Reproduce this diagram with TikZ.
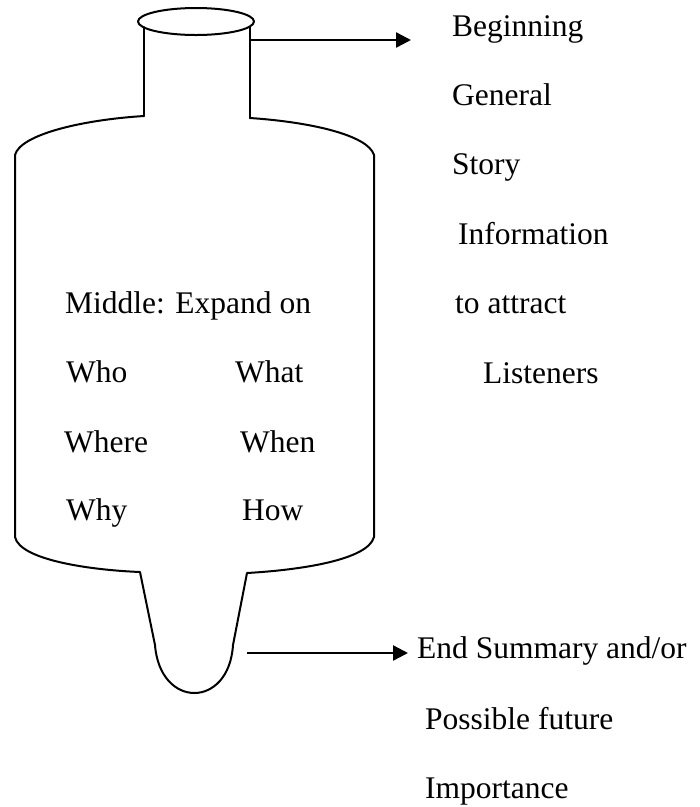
\documentclass[tikz,border=0pt]{standalone}
\usepackage{fontspec}
\setmainfont{Liberation Serif}
\usetikzlibrary{arrows.meta}
\begin{document}
\begin{tikzpicture}[x=1pt,y=-1pt,
  outline/.style={line width=2pt, line join=round, line cap=round},
  pointer/.style={line width=2.4pt, -{Triangle[length=15pt,width=15pt]}},
  label/.style={anchor=base west, inner sep=0pt, font=\fontsize{31.5}{38}\selectfont}]
\useasboundingbox (0,0) rectangle (700,807);

% bottle outline
\draw[outline] (196,21.5) ellipse [x radius=58, y radius=13.5];
\coordinate (nLtop) at (144,27);
\coordinate (nRtop) at (250,27);
\coordinate (nLbot) at (144,116);
\coordinate (nRbot) at (250,118);
\draw[outline] (nLtop) -- (nLbot);
\draw[outline] (nRtop) -- (nRbot);
\draw[outline] (nLbot) .. controls (80,120) and (20,135) .. (15,155)
  -- (15,537) .. controls (20,560) and (90,570) .. (140,572)
  -- (155,645) .. controls (160,709) and (229,709) .. (233,645)
  -- (247,573) .. controls (300,570) and (368,560) .. (374,537)
  -- (374,155) .. controls (368,135) and (310,122) .. (nRbot);

% arrows
\coordinate (topStart) at (250,40);
\coordinate (topEnd) at (411,40);
\coordinate (botStart) at (247,653);
\coordinate (botEnd) at (408,653);
\draw[pointer] (topStart) -- (topEnd);
\draw[pointer] (botStart) -- (botEnd);

% right column
\node[label] (beg) at (452,36) {Beginning};
\node[label] (gen) at (452,105) {General};
\node[label] (sto) at (452,174) {Story};
\node[label] (inf) at (458,244) {Information};
\node[label] (att) at (455,313) {to attract};
\node[label] (lis) at (483,383) {Listeners};

% middle text
\node[label] (mid) at (65,313) {Middle: Expand on};
\node[label] (who) at (66,382) {Who};
\node[label] (what) at (235,382) {What};
\node[label] (where) at (64,452) {Where};
\node[label] (when) at (240,452) {When};
\node[label] (why) at (66,520) {Why};
\node[label] (how) at (242,520) {How};

% end text
\node[label] (end) at (417,658) {End Summary and/or};
\node[label] (pos) at (425,729) {Possible future};
\node[label] (imp) at (425,798) {Importance};
\end{tikzpicture}
\end{document}
